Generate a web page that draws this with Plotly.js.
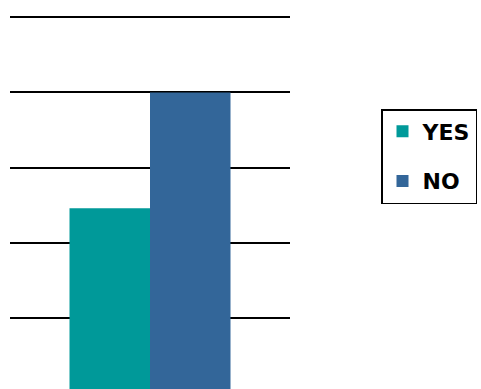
<!DOCTYPE html>
<html>
<head>
<meta charset="utf-8">
<script src="https://cdn.plot.ly/plotly-3.0.1.min.js"></script>
<style>html,body{margin:0;padding:0;background:#fff;}#chart{width:481px;height:389px;}</style>
</head>
<body>
<div id="chart"></div>
<script>
const categories = ['Response'];
const seriesNames = ['YES', 'NO'];
const yesValues = [2.46];
const noValues = [4.0];
const colors = ['#009999', '#336699'];

const traces = [
  {type: 'bar', name: seriesNames[0], x: categories, y: yesValues, marker: {color: colors[0]}, legendgroup: 'a', hoverinfo: 'none'},
  {type: 'bar', name: seriesNames[1], x: categories, y: noValues, marker: {color: colors[1]}, legendgroup: 'b', hoverinfo: 'none'}
];

const layout = {
  width: 481, height: 389,
  margin: {l: 10, r: 191, t: 0, b: 0, pad: 0},
  paper_bgcolor: '#ffffff', plot_bgcolor: '#ffffff',
  barmode: 'group', bargap: 0.425, bargroupgap: 0,
  showlegend: true,
  xaxis: {showticklabels: false, showgrid: false, zeroline: false, showline: false, ticks: '', range: [-0.5, 0.5]},
  yaxis: {range: [0.053, 5.23], dtick: 1, tick0: 0, showgrid: true, gridcolor: '#000000', gridwidth: 2,
          showticklabels: false, zeroline: false, showline: false, ticks: ''},
  legend: {x: 1.325, xanchor: 'left', y: 1 - 109/389, yanchor: 'top',
           bordercolor: '#000000', borderwidth: 1.5, bgcolor: '#ffffff',
           traceorder: 'grouped', tracegroupgap: 18,
           font: {family: 'DejaVu Sans', size: 22, color: '#000000', weight: 'bold'}}
};

Plotly.newPlot('chart', traces, layout, {displayModeBar: false, staticPlot: true});
</script>
</body>
</html>
